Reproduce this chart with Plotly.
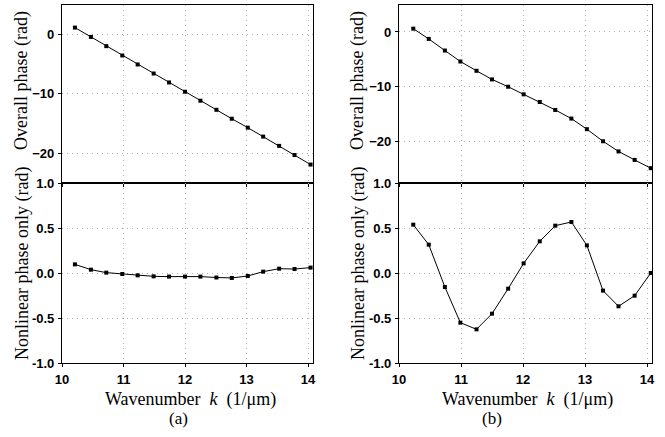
import plotly.graph_objects as go

W, H = 665, 437

k_a = [10.21, 10.47, 10.72, 10.98, 11.23, 11.49, 11.74, 12.00,
       12.25, 12.51, 12.76, 13.02, 13.27, 13.53, 13.78, 14.04]
k_b = [10.23, 10.48, 10.74, 10.99, 11.25, 11.50, 11.76, 12.01,
       12.27, 12.52, 12.78, 13.03, 13.29, 13.54, 13.80, 14.06]

overall_a = [1.12, -0.45, -2.0, -3.57, -5.08, -6.6, -8.1, -9.66,
             -11.17, -12.7, -14.2, -15.7, -17.2, -18.76, -20.3, -21.9]
nonlin_a = [0.096, 0.037, 0.004, -0.011, -0.026, -0.037, -0.04, -0.04,
            -0.04, -0.05, -0.055, -0.033, 0.015, 0.048, 0.044, 0.06]

overall_b = [0.60, -1.27, -3.38, -5.38, -7.07, -8.64, -9.97, -11.36,
             -12.75, -14.2, -15.77, -17.7, -19.9, -21.75, -23.3, -24.8]
nonlin_b = [0.537, 0.315, -0.156, -0.552, -0.626, -0.452, -0.174, 0.107,
            0.352, 0.526, 0.567, 0.307, -0.196, -0.37, -0.252, 0.0]

x_ticks = [10, 11, 12, 13, 14]
top_ticks = [0, -10, -20]
bot_ticks = [-1.0, -0.5, 0.0, 0.5, 1.0]
bot_ticktext = ["-1.0", "-0.5", "0.0", "0.5", "1.0"]

fig = go.Figure()

line_style = dict(color="black", width=1)
marker_style = dict(symbol="square", size=4, color="black")

series = [
    (k_a, overall_a, "x", "y"),
    (k_a, nonlin_a, "x2", "y2"),
    (k_b, overall_b, "x3", "y3"),
    (k_b, nonlin_b, "x4", "y4"),
]
for xs, ys, xa, ya in series:
    fig.add_trace(go.Scatter(x=xs, y=ys, mode="lines+markers", xaxis=xa, yaxis=ya,
                             line=line_style, marker=marker_style, showlegend=False,
                             cliponaxis=False))

tick_font = dict(family="Liberation Sans, Arial", size=13, color="black", weight="bold")
serif = "Liberation Serif, Times New Roman"

def px(x):
    return x / W

def py(y):
    return 1 - y / H

common_axis = dict(
    showline=True, linecolor="black", linewidth=1.2, mirror=True,
    showgrid=True, gridcolor="#b0b0b0", griddash="1px,4px", gridwidth=1,
    zeroline=False, ticks="outside", ticklen=3, tickcolor="black",
    tickfont=tick_font, automargin=False, ticklabelstandoff=1,
)

xr = [10, 14.08]
left_dom = [px(62), px(313)]
right_dom = [px(399), px(652)]
top_dom = [py(183), py(4.5)]
bot_dom = [py(363), py(183)]

fig.update_layout(
    width=W, height=H,
    margin=dict(l=0, r=0, t=0, b=0, autoexpand=False),
    paper_bgcolor="white", plot_bgcolor="white",
    xaxis=dict(domain=left_dom, range=xr, tickvals=x_ticks, showticklabels=False,
               anchor="y", **common_axis),
    yaxis=dict(domain=top_dom, range=[-25, 5], tickvals=top_ticks, anchor="x",
               **common_axis),
    xaxis2=dict(domain=left_dom, range=xr, tickvals=x_ticks, anchor="y2",
                **common_axis),
    yaxis2=dict(domain=bot_dom, range=[-1, 1], tickvals=bot_ticks, ticktext=bot_ticktext,
                anchor="x2", **common_axis),
    xaxis3=dict(domain=right_dom, range=xr, tickvals=x_ticks, showticklabels=False,
                anchor="y3", **common_axis),
    yaxis3=dict(domain=top_dom, range=[-27.5, 5], tickvals=top_ticks, anchor="x3",
                **common_axis),
    xaxis4=dict(domain=right_dom, range=xr, tickvals=x_ticks, anchor="y4",
                **common_axis),
    yaxis4=dict(domain=bot_dom, range=[-1, 1], tickvals=bot_ticks, ticktext=bot_ticktext,
                anchor="x4", **common_axis),
)

ann = []
title_font = dict(family=serif, size=18, color="black")
for cx, sub_cx, lab, lab_x in [(22, 190, "(a)", 178), (358, 527, "(b)", 492)]:
    ann.append(dict(x=px(cx), y=py(81), xref="paper", yref="paper",
                    text="Overall phase (rad)", textangle=-90, showarrow=False,
                    font=title_font, xanchor="center", yanchor="middle"))
    ann.append(dict(x=px(cx), y=py(264), xref="paper", yref="paper",
                    text="Nonlinear phase only (rad)", textangle=-90, showarrow=False,
                    font=title_font, xanchor="center", yanchor="middle"))
    ann.append(dict(x=px(sub_cx), y=py(399), xref="paper", yref="paper",
                    text="Wavenumber&nbsp;&nbsp;<i>k</i>&nbsp;&nbsp;(1/μm)", showarrow=False,
                    font=title_font, xanchor="center", yanchor="middle"))
    ann.append(dict(x=px(lab_x), y=py(418), xref="paper", yref="paper",
                    text=lab, showarrow=False,
                    font=dict(family=serif, size=17, color="black"),
                    xanchor="center", yanchor="middle"))
fig.update_layout(annotations=ann)

fig.write_html("out.html", config={"displayModeBar": False},
               post_script="document.body.style.margin='0';document.body.style.padding='0';")
